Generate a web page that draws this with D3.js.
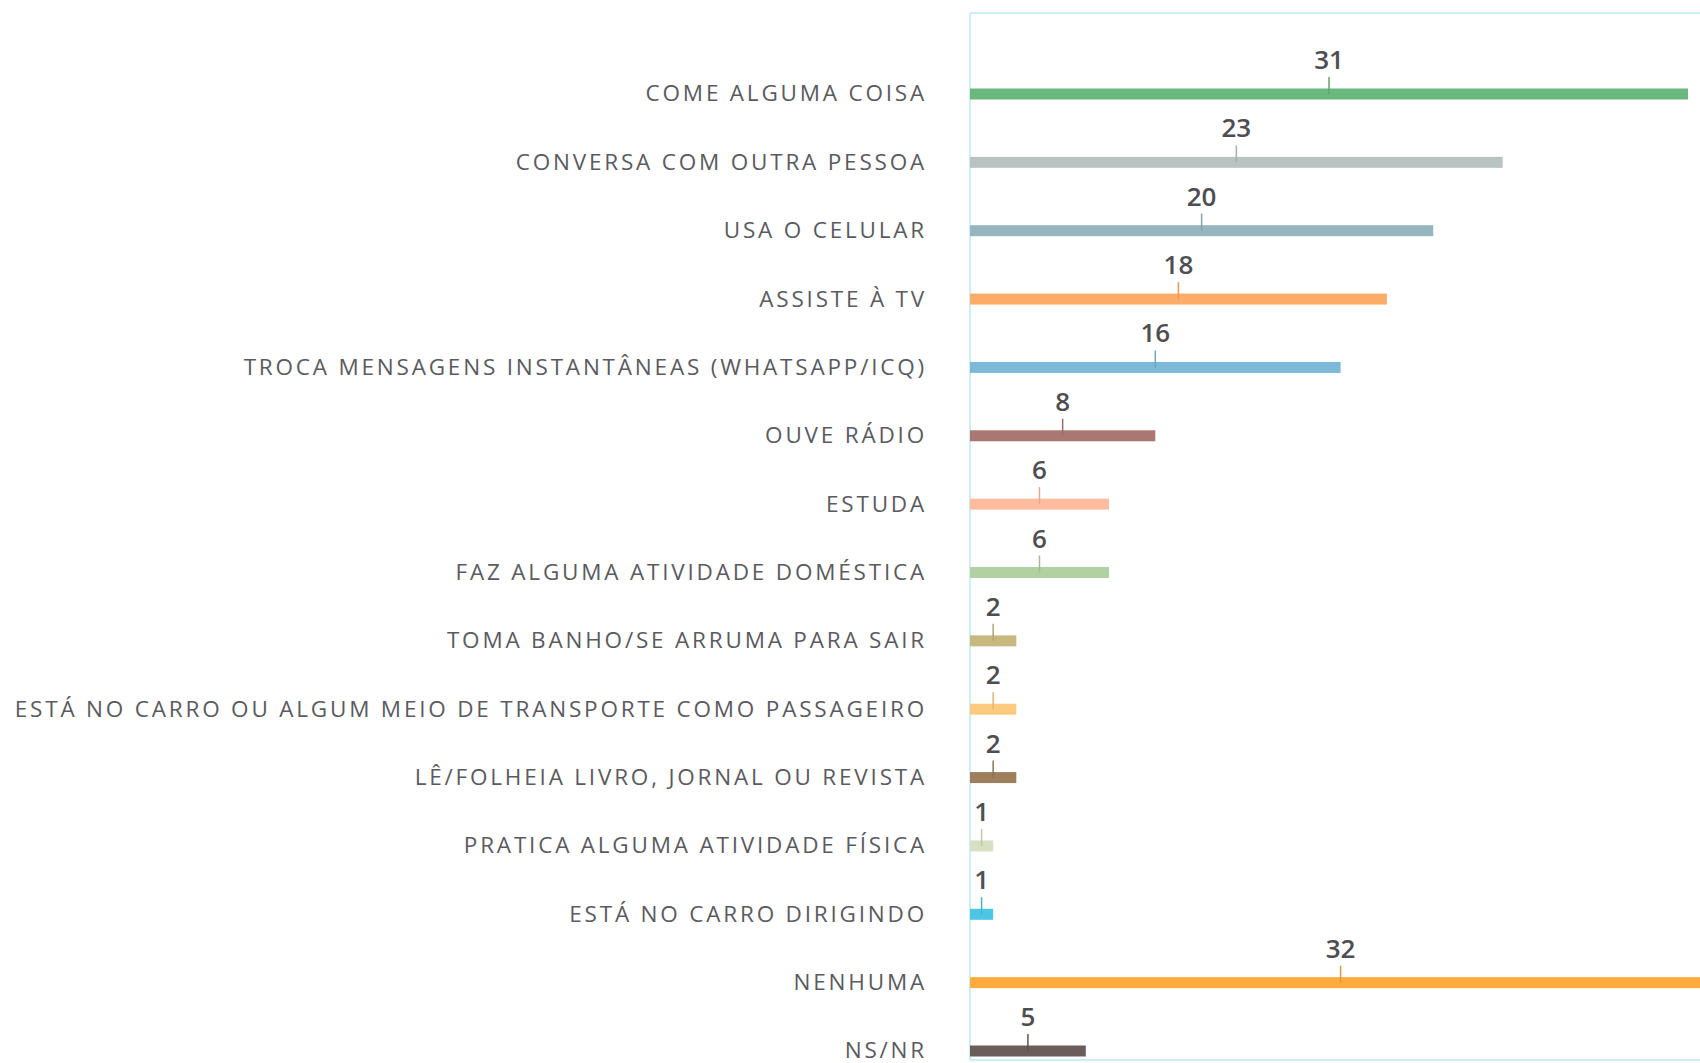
<!DOCTYPE html>
<html>
<head>
<meta charset="utf-8">
<script src="https://cdn.jsdelivr.net/npm/d3@7"></script>
<style>
  html, body { margin: 0; padding: 0; background: #fff; }
  svg { display: block; }
  .cat { font-family: "Open Sans", "Lato", sans-serif; font-size: 22.5px; fill: #5a5a5f; letter-spacing: 2.8px; }
  .val { font-family: "Open Sans", "Lato", sans-serif; font-size: 26px; fill: #4e4e52; font-weight: 600; }
</style>
</head>
<body>
<svg id="chart"></svg>
<script>
const categories = [
  "COME ALGUMA COISA",
  "CONVERSA COM OUTRA PESSOA",
  "USA O CELULAR",
  "ASSISTE À TV",
  "TROCA MENSAGENS INSTANTÂNEAS (WHATSAPP/ICQ)",
  "OUVE RÁDIO",
  "ESTUDA",
  "FAZ ALGUMA ATIVIDADE DOMÉSTICA",
  "TOMA BANHO/SE ARRUMA PARA SAIR",
  "ESTÁ NO CARRO OU ALGUM MEIO DE TRANSPORTE COMO PASSAGEIRO",
  "LÊ/FOLHEIA LIVRO, JORNAL OU REVISTA",
  "PRATICA ALGUMA ATIVIDADE FÍSICA",
  "ESTÁ NO CARRO DIRIGINDO",
  "NENHUMA",
  "NS/NR"
];
const values = [31, 23, 20, 18, 16, 8, 6, 6, 2, 2, 2, 1, 1, 32, 5];
const colors = [
  "#6bb87f", "#b9c3c1", "#95b5bf", "#fdac68", "#7cb9d8",
  "#ab7772", "#fdbc9e", "#b1d1a2", "#c7b87e", "#fdca80",
  "#9e7f5d", "#d8dfc2", "#4cc6e2", "#fcab3c", "#6b5d59"
];

const W = 1700, H = 1063;
const svg = d3.select("#chart").attr("width", W).attr("height", H);

const x0 = 970;
const x = d3.scaleLinear().domain([0, 31]).range([x0, 1688]);
const y = d3.scalePoint().domain(categories).range([94, 1051]);
const barH = 11;

// frame
const frame = svg.append("g").attr("stroke", "#cdeef6").attr("stroke-width", 2);
frame.append("line").attr("x1", x0).attr("x2", W).attr("y1", 13).attr("y2", 13);
frame.append("line").attr("x1", x0).attr("x2", x0).attr("y1", 13).attr("y2", 1060);
frame.append("line").attr("x1", x0).attr("x2", W).attr("y1", 1060).attr("y2", 1060);

const rows = svg.append("g").selectAll("g")
  .data(categories.map((c, i) => ({ c, v: values[i], col: colors[i] })))
  .join("g")
  .attr("transform", d => `translate(0,${y(d.c)})`);

rows.append("rect")
  .attr("x", x0)
  .attr("y", -barH / 2)
  .attr("width", d => x(d.v) - x0)
  .attr("height", barH)
  .attr("fill", d => d.col);

rows.append("line")
  .attr("x1", d => (x0 + x(d.v)) / 2)
  .attr("x2", d => (x0 + x(d.v)) / 2)
  .attr("y1", -17)
  .attr("y2", 0)
  .attr("stroke", d => d3.color(d.col).darker(0.3))
  .attr("stroke-width", 1.5);

rows.append("text")
  .attr("class", "val")
  .attr("x", d => (x0 + x(d.v)) / 2)
  .attr("y", -25)
  .attr("text-anchor", "middle")
  .text(d => d.v);

rows.append("text")
  .attr("class", "cat")
  .attr("x", 927)
  .attr("y", 0)
  .attr("dy", "0.33em")
  .attr("text-anchor", "end")
  .text(d => d.c);
</script>
</body>
</html>
